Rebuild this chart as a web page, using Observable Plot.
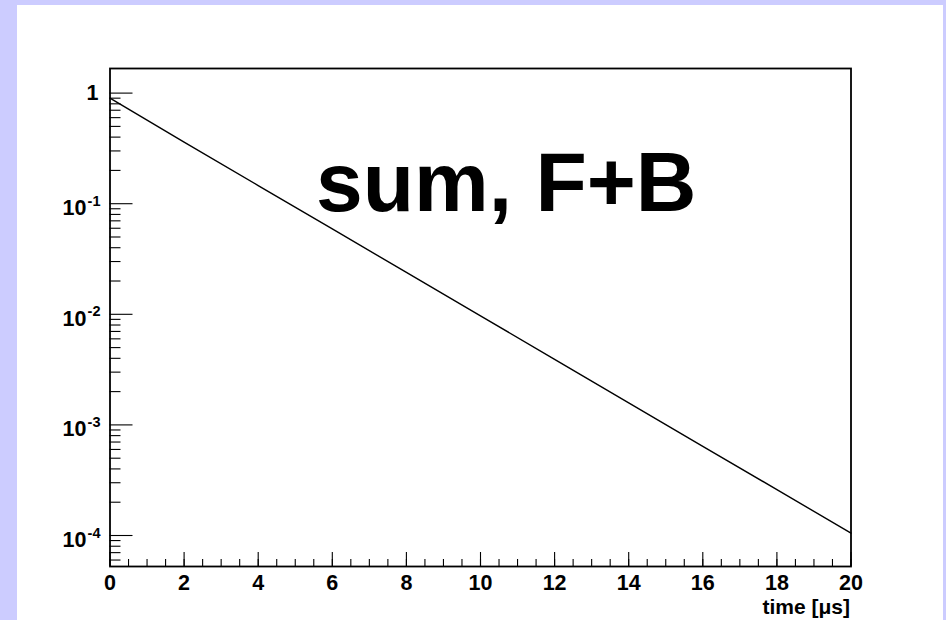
<!DOCTYPE html>
<html>
<head>
<meta charset="utf-8">
<script src="https://cdn.jsdelivr.net/npm/d3@7"></script>
<script src="https://cdn.jsdelivr.net/npm/@observablehq/plot@0.6"></script>
<style>
  html, body { margin: 0; padding: 0; background: #ccccff; }
  #wrap { position: relative; width: 946px; height: 620px; overflow: hidden; }
  #pad { position: absolute; left: 17px; top: 5px; width: 926px; height: 615px; background: #ffffff; }
  #chart { position: absolute; left: 0; top: 0; }
</style>
</head>
<body>
<div id="wrap">
  <div id="pad"></div>
  <div id="chart"></div>
</div>
<script>
// Summed forward + backward decay spectrum (normalised), log scale
const time = [0, 2, 4, 6, 8, 10, 12, 14, 16, 18, 20];          // µs
const counts = [0.90, 0.361, 0.146, 0.0592, 0.0239, 0.00967,
                0.00392, 0.00158, 0.00064, 0.00026, 0.000105];

// axis ticks
const xMajor = [0, 2, 4, 6, 8, 10, 12, 14, 16, 18, 20];
const xMinor = d3.range(0, 20.001, 0.5);
const yMajor = [1, 0.1, 0.01, 0.001, 0.0001];
const yLabelBase = ["1", "10", "10", "10", "10"];
const yLabelExp = ["", "-1", "-2", "-3", "-4"];
const yDomain = [5.245e-5, 1.669];
const yMinor = [1e-5, 1e-4, 1e-3, 1e-2, 1e-1]
  .flatMap(d => [2, 3, 4, 5, 6, 7, 8, 9].map(m => m * d))
  .filter(v => v >= yDomain[0] && v <= yDomain[1]);

// annotation
const titleText = ["sum, F+B"];
const titleT = 5.56;
const titleV = 0.0868;
const axisTitle = "time [\u03bcs]";

const W = 946, H = 620;
const mL = 109.5, mR = 95.5, mT = 68, mB = 54;
const plotW = W - mL - mR, plotH = H - mT - mB;
const font = "'Liberation Sans', Arial, Helvetica, sans-serif";

const series = time.map((t, i) => ({t, v: counts[i]}));
const yLabels = yMajor.map((v, i) => ({v, base: yLabelBase[i], exp: yLabelExp[i]}));

const chart = Plot.plot({
  width: W,
  height: H,
  marginLeft: mL,
  marginRight: mR,
  marginTop: mT,
  marginBottom: mB,
  style: {background: "transparent", fontFamily: font, color: "black"},
  x: {domain: [0, 20], axis: null},
  y: {type: "log", domain: yDomain, axis: null},
  marks: [
    Plot.frame({stroke: "black", strokeWidth: 1.8}),
    // bottom ticks, pointing inward
    Plot.tickX(xMinor, {x: d => d, stroke: "black", strokeWidth: 1.1, insetTop: plotH - 7}),
    Plot.tickX(xMajor, {x: d => d, stroke: "black", strokeWidth: 1.1, insetTop: plotH - 14}),
    // left ticks, pointing inward
    Plot.tickY(yMinor, {y: d => d, stroke: "black", strokeWidth: 1.1, insetRight: plotW - 11}),
    Plot.tickY(yMajor, {y: d => d, stroke: "black", strokeWidth: 1.1, insetRight: plotW - 23}),
    // x tick labels
    Plot.text(xMajor, {
      x: d => d, frameAnchor: "bottom", text: d => String(d),
      lineAnchor: "bottom", dy: 23, fontSize: 21.5, fontWeight: "bold", fill: "black"
    }),
    // y tick labels
    Plot.text(yLabels.filter(d => d.exp === ""), {
      y: "v", frameAnchor: "left", text: "base", textAnchor: "end",
      lineAnchor: "bottom", dx: -11.5, dy: 7, fontSize: 21.5, fontWeight: "bold", fill: "black"
    }),
    Plot.text(yLabels.filter(d => d.exp !== ""), {
      y: "v", frameAnchor: "left", text: "base", textAnchor: "end",
      lineAnchor: "bottom", dx: -23.5, dy: 11.5, fontSize: 21.5, fontWeight: "bold", fill: "black"
    }),
    Plot.text(yLabels.filter(d => d.exp !== ""), {
      y: "v", frameAnchor: "left", text: "exp", textAnchor: "end",
      lineAnchor: "bottom", dx: -9.5, dy: 2, fontSize: 14.5, fontWeight: "bold", fill: "black"
    }),
    // x axis title
    Plot.text([axisTitle], {
      frameAnchor: "bottom-right", text: d => d, textAnchor: "end",
      lineAnchor: "bottom", dx: -1, dy: 47, fontSize: 21, fontWeight: "bold", fill: "black"
    }),
    // decay curve
    Plot.line(series, {x: "t", y: "v", stroke: "black", strokeWidth: 1.4}),
    // label
    Plot.text(titleText, {
      x: () => titleT, y: () => titleV, text: d => d, textAnchor: "start",
      lineAnchor: "bottom", fontSize: 84, fontWeight: "bold", fill: "black"
    })
  ]
});

document.getElementById("chart").appendChild(chart);
</script>
</body>
</html>
